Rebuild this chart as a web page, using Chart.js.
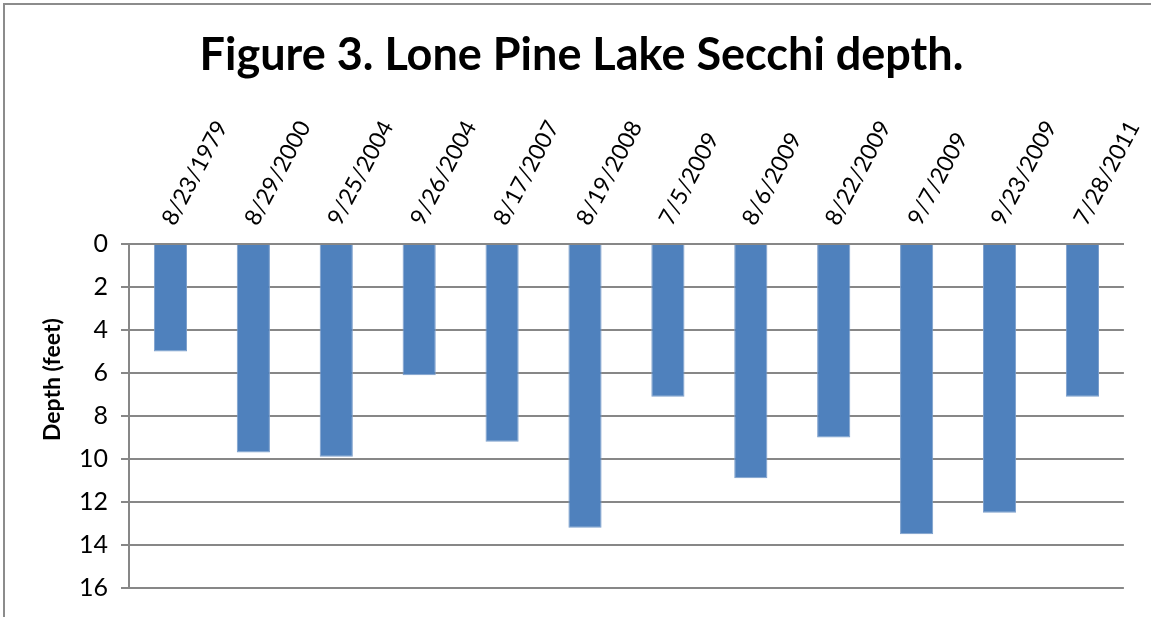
<!DOCTYPE html>
<html>
<head>
<meta charset="utf-8">
<script src="https://cdn.jsdelivr.net/npm/chart.js@4/dist/chart.umd.min.js"></script>
<style>
  html, body { margin: 0; padding: 0; background: #fff; overflow: hidden; }
  #wrap { position: relative; width: 1151px; height: 617px; }
  #frame { position: absolute; left: 3px; top: 3px; width: 1160px; height: 700px; border: 2px solid #8c8c8c; box-sizing: border-box; pointer-events: none; }
</style>
</head>
<body>
<div id="wrap">
  <canvas id="secchiChart" width="1151" height="617"></canvas>
  <div id="frame"></div>
</div>
<script>
// Sampling dates and Secchi depths (feet)
const sampleDates = ['8/23/1979', '8/29/2000', '9/25/2004', '9/26/2004', '8/17/2007', '8/19/2008',
                     '7/5/2009', '8/6/2009', '8/22/2009', '9/7/2009', '9/23/2009', '7/28/2011'];
const secchiDepth = [5.0, 9.7, 9.9, 6.1, 9.2, 13.2, 7.1, 10.9, 9.0, 13.5, 12.5, 7.1];
const depthTicks = [0, 2, 4, 6, 8, 10, 12, 14, 16];

const gridGray = '#878787';
const fontFamily = 'Lato, "Open Sans", sans-serif';

const ctx = document.getElementById('secchiChart').getContext('2d');
new Chart(ctx, {
    type: 'bar',
    data: {
        labels: sampleDates,
        datasets: [{
            label: 'Secchi depth',
            data: secchiDepth,
            backgroundColor: '#4f81bd',
            borderColor: '#7c9fcc',
            borderWidth: 1,
            barPercentage: 0.4,
            categoryPercentage: 1.0
        }]
    },
    options: {
        responsive: false,
        animation: false,
        layout: { padding: { left: 35, right: 23, top: 0, bottom: 29 } },
        plugins: {
            legend: { display: false },
            tooltip: { enabled: false },
            title: {
                display: true,
                text: 'Figure 3. Lone Pine Lake Secchi depth.',
                color: '#000',
                font: { family: fontFamily, size: 45, weight: 'bold' },
                padding: { top: 28, bottom: 10 }
            }
        },
        scales: {
            x: {
                position: 'top',
                grid: { display: false, drawTicks: false },
                border: { display: true, color: gridGray, width: 2 },
                ticks: {
                    color: '#000',
                    font: { family: fontFamily, size: 23 },
                    minRotation: 62,
                    maxRotation: 62,
                    autoSkip: false,
                    labelOffset: 22,
                    padding: 14
                },
                afterFit: function (scale) { scale.height = 152; }
            },
            y: {
                reverse: true,
                min: 0,
                max: 16,
                afterBuildTicks: function (scale) {
                    scale.ticks = depthTicks.map(v => ({ value: v }));
                },
                grid: { color: gridGray, lineWidth: 2, tickLength: 8, drawTicks: true },
                border: { display: true, color: gridGray, width: 2 },
                ticks: {
                    color: '#000',
                    font: { family: fontFamily, size: 25 },
                    padding: 13
                },
                title: {
                    display: true,
                    // leading spaces nudge the rotated title up, like the original
                    text: '             Depth (feet)',
                    color: '#000',
                    font: { family: fontFamily, size: 23, weight: 'bold' },
                    padding: { top: 4, bottom: 0 }
                },
                afterFit: function (scale) { scale.width = 94; }
            }
        }
    }
});
</script>
</body>
</html>
